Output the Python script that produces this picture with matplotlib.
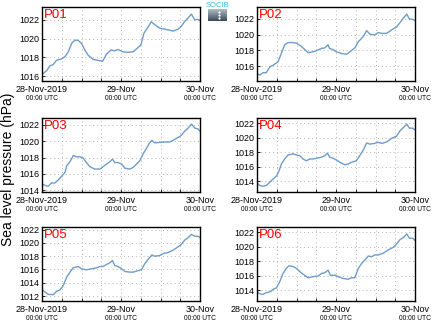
import numpy as np
import matplotlib
matplotlib.use('Agg')
import matplotlib.pyplot as plt
from matplotlib import transforms

plt.rcParams['font.family'] = ['Liberation Sans', 'DejaVu Sans']

# hours since 28-Nov-2019 00:00 UTC, sea level pressure (hPa)
p01_h = [0, 1.4, 2.4, 3.4, 4.4, 6, 7, 8, 9, 10, 11, 12, 13, 14, 15.5, 17.6, 18.4, 19.6, 21, 22, 23,
         24.6, 26, 27.7, 29, 30, 31, 32, 33.2, 34.2, 35.8, 37.3, 38.8, 39.8, 41.3, 42.3, 43.3, 44.4,
         45.4, 46.4, 47.4, 48]
p01_v = [1016.2, 1016.6, 1017.1, 1017.25, 1017.7, 1017.85, 1018.1, 1018.6, 1019.5, 1019.85, 1019.8,
         1019.5, 1018.8, 1018.25, 1017.8, 1017.65, 1017.6, 1018.35, 1018.8, 1018.7, 1018.85, 1018.6,
         1018.55, 1018.6, 1019.0, 1019.3, 1020.6, 1021.1, 1021.8, 1021.5, 1021.1, 1021.0, 1020.9,
         1020.8, 1021.0, 1021.3, 1021.8, 1022.2, 1022.6, 1022.0, 1022.05, 1021.9]

p02_h = [0, 0.8, 1.8, 2.8, 3.9, 4.9, 6.4, 7.4, 8.4, 9.4, 11, 12, 13.5, 14.5, 15.5, 17, 18, 19.6, 20.6,
         21.6, 22, 23, 24.2, 25.7, 27.2, 28.2, 29.7, 30.8, 32.3, 33.3, 34.3, 35.8, 36.8, 37.9, 39.4,
         40.9, 42.4, 43.4, 44.5, 45.5, 46.3, 47.3, 48]
p02_v = [1015.06, 1014.85, 1015.15, 1015.15, 1015.9, 1016.1, 1016.55, 1017.6, 1018.7, 1018.98,
         1018.98, 1018.9, 1018.5, 1018.1, 1017.7, 1017.8, 1017.95, 1018.25, 1018.3, 1018.7, 1018.25,
         1018.1, 1017.8, 1017.6, 1017.5, 1017.8, 1018.3, 1019.1, 1019.75, 1020.5, 1020.05, 1019.95,
         1020.25, 1020.15, 1020.15, 1020.6, 1020.95, 1021.5, 1022.1, 1022.6, 1021.95, 1021.95, 1021.75]

p03_h = [0, 0.9, 1.9, 2.9, 3.9, 5, 6, 7, 7.5, 8.5, 9.5, 10.5, 11.5, 12.5, 13.5, 14.5, 16, 17.6, 18.6,
         19.6, 20.6, 21.4, 22.1, 23.1, 24.2, 25.2, 26.7, 27.7, 28.7, 29.7, 30.7, 31.7, 32.7, 33.4,
         34.2, 35.8, 37.3, 38.8, 39.8, 41.3, 42.3, 43.3, 44.4, 45.4, 46.4, 47.4, 48]
p03_v = [1014.8, 1014.6, 1014.5, 1014.9, 1014.9, 1015.3, 1015.75, 1016.2, 1017.0, 1017.5, 1018.25,
         1018.1, 1018.1, 1017.95, 1017.4, 1016.9, 1016.6, 1016.6, 1016.9, 1017.2, 1017.5, 1017.8,
         1017.4, 1017.4, 1017.2, 1016.7, 1016.6, 1016.8, 1017.2, 1017.6, 1018.45, 1019.1, 1019.8,
         1020.1, 1019.8, 1019.85, 1019.9, 1019.9, 1020.1, 1020.45, 1020.7, 1021.2, 1021.6, 1022.1,
         1021.6, 1021.5, 1021.2]

p04_h = [0, 0.8, 1.8, 2.8, 3.9, 4.9, 5.9, 6.6, 7.4, 8.4, 9.4, 11, 12, 13, 14, 15, 16, 17, 18.6, 19.6,
         20.6, 21.4, 22.1, 23.1, 24.2, 25.2, 26.7, 27.7, 28.7, 30.2, 31.2, 32.3, 33.3, 34.3, 35.8,
         36.8, 37.9, 39.4, 40.9, 42.4, 43.4, 44.5, 45.5, 46.3, 47.3, 48]
p04_v = [1013.75, 1013.4, 1013.3, 1013.4, 1013.85, 1014.3, 1014.7, 1015.3, 1016.35, 1017.05, 1017.6,
         1017.75, 1017.6, 1017.5, 1017.05, 1016.8, 1017.05, 1017.05, 1017.2, 1017.3, 1017.5, 1017.85,
         1017.3, 1017.15, 1016.9, 1016.6, 1016.25, 1016.35, 1016.6, 1016.8, 1017.5, 1018.3, 1019.25,
         1019.1, 1019.2, 1019.35, 1019.2, 1019.4, 1019.9, 1020.2, 1020.9, 1021.4, 1021.85, 1021.3,
         1021.3, 1021.05]

p05_h = [0, 0.9, 1.9, 3.4, 4.4, 5.5, 6.5, 7.5, 8.5, 9.5, 11, 12, 13.5, 15, 16.6, 17.6, 18.6, 19.6,
         20.6, 21.4, 22.1, 23.1, 24.2, 25.2, 26.7, 27.7, 28.7, 30.2, 31.2, 32.2, 33.4, 34.2, 35.8,
         36.8, 38.3, 39.8, 41.3, 42.3, 43.3, 44.4, 45.4, 46.4, 47.4, 48]
p05_v = [1013.0, 1012.6, 1012.25, 1012.2, 1012.7, 1012.95, 1013.6, 1014.85, 1015.6, 1016.25, 1016.45,
         1016.1, 1015.95, 1016.1, 1016.25, 1016.45, 1016.45, 1016.75, 1017.0, 1017.35, 1016.6,
         1016.45, 1016.1, 1015.7, 1015.6, 1015.6, 1015.75, 1015.95, 1016.85, 1017.5, 1018.2, 1018.0,
         1018.1, 1018.4, 1018.55, 1018.9, 1019.4, 1019.75, 1020.4, 1020.8, 1021.3, 1021.0, 1021.0,
         1020.8]

p06_h = [0, 0.8, 1.8, 2.8, 3.9, 4.9, 5.9, 6.9, 7.9, 8.9, 9.7, 11, 12, 13, 14, 15.5, 17, 18.6, 19.6,
         20.6, 21.6, 22.3, 23.7, 24.7, 26.2, 27.7, 28.7, 29.7, 30.8, 31.8, 32.8, 33.8, 34.8, 35.8,
         36.8, 38.4, 39.9, 41.4, 42.4, 43.4, 44.5, 45.5, 46.3, 47.3, 48]
p06_v = [1013.75, 1013.5, 1013.4, 1013.65, 1013.75, 1014.1, 1014.3, 1015.15, 1016.3, 1017.0, 1017.35,
         1017.25, 1017.0, 1016.55, 1016.2, 1015.7, 1015.85, 1015.95, 1016.3, 1016.4, 1016.75, 1016.05,
         1016.05, 1015.85, 1015.6, 1015.5, 1015.7, 1015.7, 1017.0, 1017.7, 1018.15, 1018.7, 1018.6,
         1018.85, 1018.85, 1019.1, 1019.55, 1019.9, 1020.35, 1020.95, 1021.25, 1021.75, 1021.15,
         1021.15, 1020.85]

names = ['P01', 'P02', 'P03', 'P04', 'P05', 'P06']
hours = [p01_h, p02_h, p03_h, p04_h, p05_h, p06_h]
values = [p01_v, p02_v, p03_v, p04_v, p05_v, p06_v]
ylims = [(1015.5, 1023.36), (1014.1, 1023.5), (1013.8, 1022.83),
         (1012.5, 1022.7), (1011.25, 1022.4), (1012.5, 1022.7)]
tick_hours = [0, 24, 48]
tick_labels = ['28-Nov-2019', '29-Nov', '30-Nov']

W, H = 434, 327
fig = plt.figure(figsize=(W / 100, H / 100), dpi=100)

lefts = [42, 257]
tops = [7, 118, 227]
aw, ah = 158, 74

for i in range(6):
    r, c = divmod(i, 2)
    ax = fig.add_axes([lefts[c] / W, 1 - (tops[r] + ah) / H, aw / W, ah / H])
    ax.plot(hours[i], values[i], color='#6f9cc9', lw=1.0)
    ax.set_xlim(0, 48)
    ax.set_ylim(*ylims[i])
    ax.yaxis.set_major_locator(matplotlib.ticker.MultipleLocator(2))
    ax.set_xticks(tick_hours)
    ax.set_xticklabels(tick_labels)
    ax.set_xticks(np.arange(0, 49, 6), minor=True)
    ax.grid(True, which='both', axis='x', ls=(0, (1, 3)), color='#b5b5b5', lw=0.7)
    ax.grid(True, which='major', axis='y', ls=(0, (1, 3)), color='#b5b5b5', lw=0.7)
    ax.tick_params(which='both', direction='in', length=2, width=0.6, labelsize=6.5, pad=3)
    ax.tick_params(axis='y', pad=2)
    for s in ax.spines.values():
        s.set_linewidth(1.0)
    trans = transforms.blended_transform_factory(ax.transData, ax.transAxes)
    for th in tick_hours:
        ax.text(th, -0.235, '00:00 UTC', transform=trans, ha='center', va='center', fontsize=4.8)
    ax.text(0.015, 0.97, names[i], transform=ax.transAxes, color='red', fontsize=9.5,
            ha='left', va='top')

fig.text(8 / W, 1 - 169 / H, 'Sea level pressure (hPa)', rotation=90, ha='center', va='center',
         fontsize=10)

# logo
fig.text(217.5 / W, 1 - 5.5 / H, 'SOCIB', color='#3fc0d8', fontsize=5.5, ha='center', va='center')
lax = fig.add_axes([208 / W, 1 - 21 / H, 19 / W, 12 / H])
grad = np.linspace(0, 1, 32).reshape(-1, 1)
lax.imshow(grad, aspect='auto', extent=(0, 20, 12, 0), cmap=matplotlib.colors.LinearSegmentedColormap.from_list(
    'logo', ['#aebcc4', '#3c4c57']))
lax.plot([12, 12, 12], [3, 6, 9], 's', color='white', ms=0.6)
lax.set_xlim(0, 20)
lax.set_ylim(12, 0)
lax.axis('off')

fig.savefig('out.png', dpi=100)
